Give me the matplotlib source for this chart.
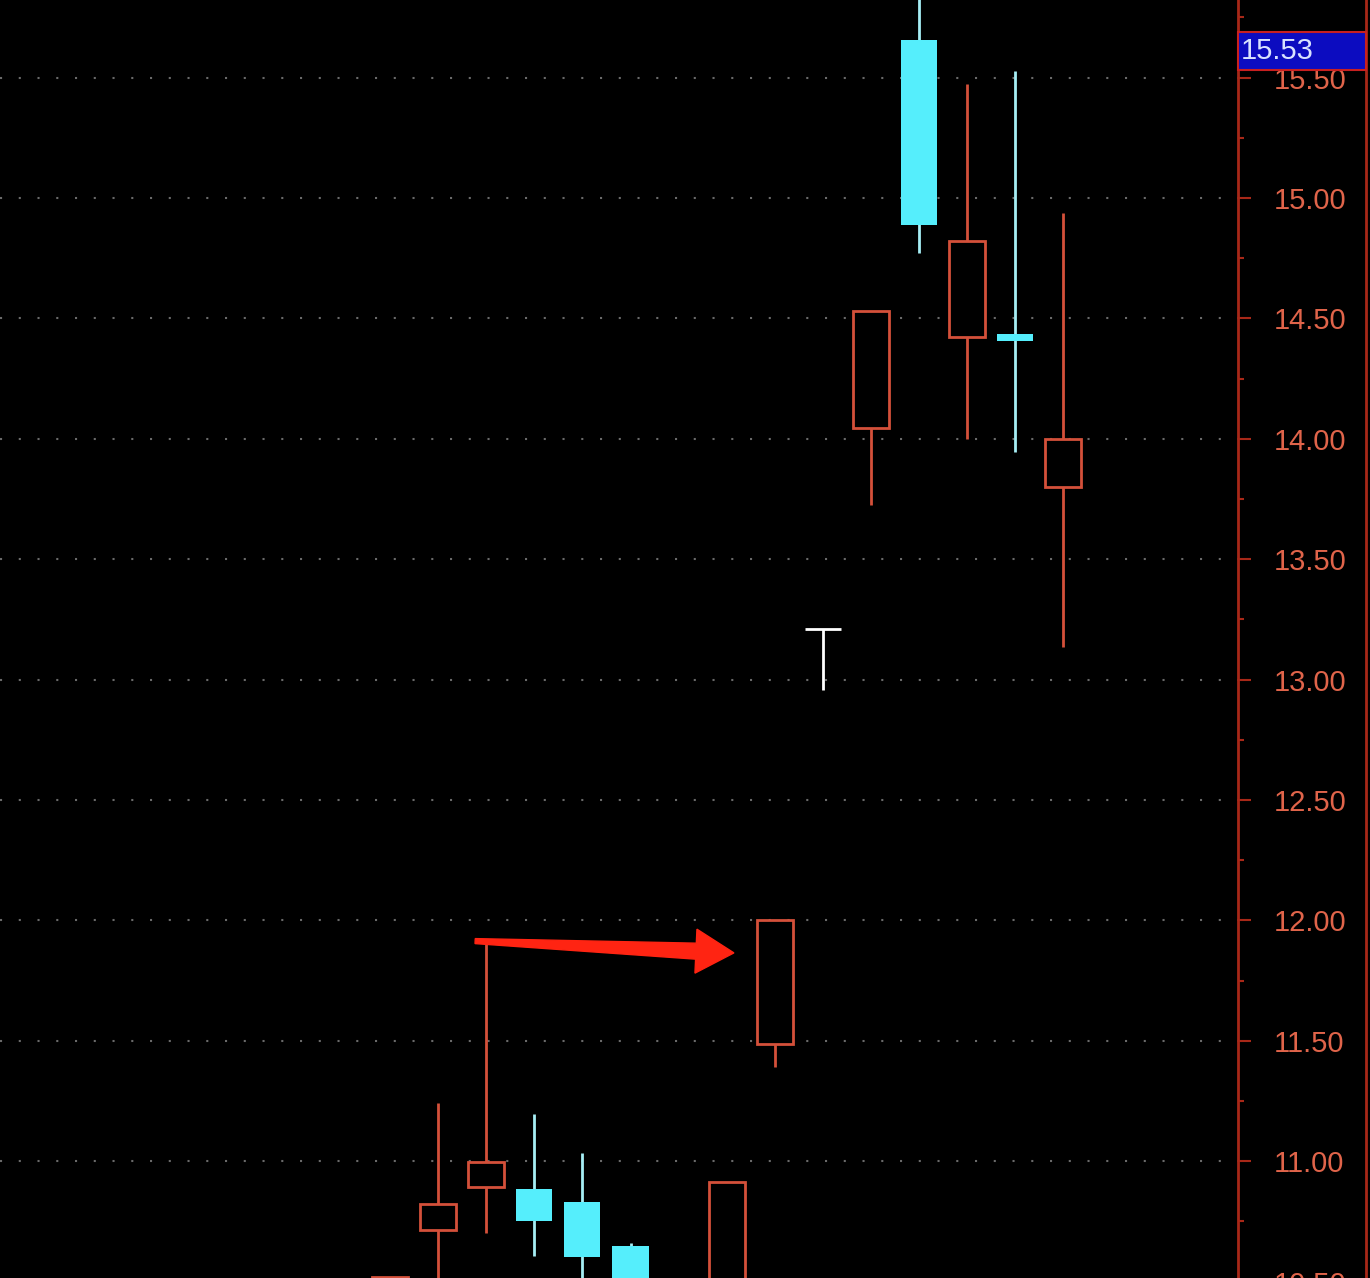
import numpy as np
import matplotlib.pyplot as plt
from matplotlib.patches import Polygon, Rectangle
from matplotlib.lines import Line2D
from matplotlib.ticker import MultipleLocator, FormatStrFormatter

# candle data (slot index, open, high, low, close)
idx = [0, 1, 2, 3, 4, 5, 7, 8, 9, 10, 11, 12, 13, 14]
opens = [10.30, 10.715, 10.894, 10.885, 10.831, 10.646, 10.30, 11.488, 13.21, 14.044, 15.657, 14.422, 14.435, 13.799]
highs = [10.52, 11.243, 11.908, 11.197, 11.035, 10.660, 10.914, 12.003, 13.21, 14.530, 15.950, 15.474, 15.528, 14.938]
lows = [10.20, 10.450, 10.702, 10.607, 10.480, 10.300, 10.20, 11.390, 12.955, 13.724, 14.771, 14.000, 13.944, 13.134]
closes = [10.52, 10.823, 10.997, 10.752, 10.603, 10.300, 10.914, 12.003, 13.21, 14.530, 14.888, 14.821, 14.406, 14.000]

last_price = 15.53
arrow_tail = (1.77, 11.914)
arrow_tip = (7.15, 11.865)

RED = '#d4503a'
CYAN = '#55eefc'
CYAN_WICK = '#a6eef5'
AXIS_RED = '#a82818'
LABEL = '#e0644a'

W, H = 1370, 1278
fig = plt.figure(figsize=(W / 100, H / 100), dpi=100, facecolor='black')
# axes runs a few pixels below the picture so the 10.50 label is cut off
ax = fig.add_axes([0, -3.6 / H, 1238 / W, 1281.6 / H])
ax.set_facecolor('black')

bw = 0.75
for i, o, h, l, c in zip(idx, opens, highs, lows, closes):
    if abs(o - c) < 0.005:
        # doji drawn as a T
        ax.hlines(c, i - bw / 2, i + bw / 2, color='white', lw=2, zorder=3)
        ax.vlines(i, l, h, color='white', lw=2, zorder=3)
        continue
    top, bot = max(o, c), min(o, c)
    if c > o:
        ax.vlines(i, top, h, color=RED, lw=2, zorder=2)
        ax.vlines(i, l, bot, color=RED, lw=2, zorder=2)
        ax.bar(i, top - bot, bottom=bot, width=bw, facecolor='black',
               edgecolor=RED, linewidth=2, zorder=3)
    else:
        ax.vlines(i, l, h, color=CYAN_WICK, lw=2, zorder=2)
        ax.bar(i, top - bot, bottom=bot, width=bw, color=CYAN,
               linewidth=0, zorder=3)

ax.set_xlim(-390 / 48.1, (1238 - 390) / 48.1)
ax.set_ylim(10.50, 15.822)

ax.yaxis.tick_right()
ax.yaxis.set_major_locator(MultipleLocator(0.5))
ax.yaxis.set_minor_locator(MultipleLocator(0.25))
ax.yaxis.set_major_formatter(FormatStrFormatter('%.2f'))
ax.tick_params(axis='y', which='major', length=9, width=1.5, color=AXIS_RED,
               labelcolor=LABEL, labelsize=21, pad=17)
ax.tick_params(axis='y', which='minor', length=4, width=1.5, color=AXIS_RED)
for lab in ax.get_yticklabels():
    lab.set_fontfamily('Liberation Sans')
ax.set_xticks([])
for s in ['left', 'top', 'bottom']:
    ax.spines[s].set_visible(False)
ax.spines['right'].set_color(AXIS_RED)
ax.spines['right'].set_linewidth(2)
ax.yaxis.grid(True, which='major', color='#6a6a6a', linestyle=(0, (1, 8)), lw=1.5)
ax.set_axisbelow(True)

# red arrow pointing at the 12.00 candle
p0 = ax.transData.transform(arrow_tail)
p1 = ax.transData.transform(arrow_tip)
d = (p1 - p0) / np.hypot(*(p1 - p0))
n = np.array([-d[1], d[0]])
hb = p1 - d * 38
pts = [p0 + n * 2.5, hb + n * 8, hb + n * 22, p1, hb - n * 22, hb - n * 8, p0 - n * 2.5]
fig.add_artist(Polygon(pts, closed=True, transform=None, color='#ff2412', zorder=6))

# right border line
fig.add_artist(Line2D([1366 / W, 1366 / W], [0, 1], color=AXIS_RED, lw=2))

# last price box
yb = ax.transData.transform((0, last_price))[1] / H
fig.add_artist(Rectangle((1238 / W, yb), 128 / W, 38 / H, transform=fig.transFigure,
                         facecolor='#0c0cc0', edgecolor='#c82020', lw=1.5, zorder=10))
fig.text(1241 / W, yb + 19 / H, '15.53', color='#d8e2ff', fontsize=21,
         family='Liberation Sans', va='center', ha='left', zorder=11)

fig.savefig('out.png', dpi=100, facecolor='black')
